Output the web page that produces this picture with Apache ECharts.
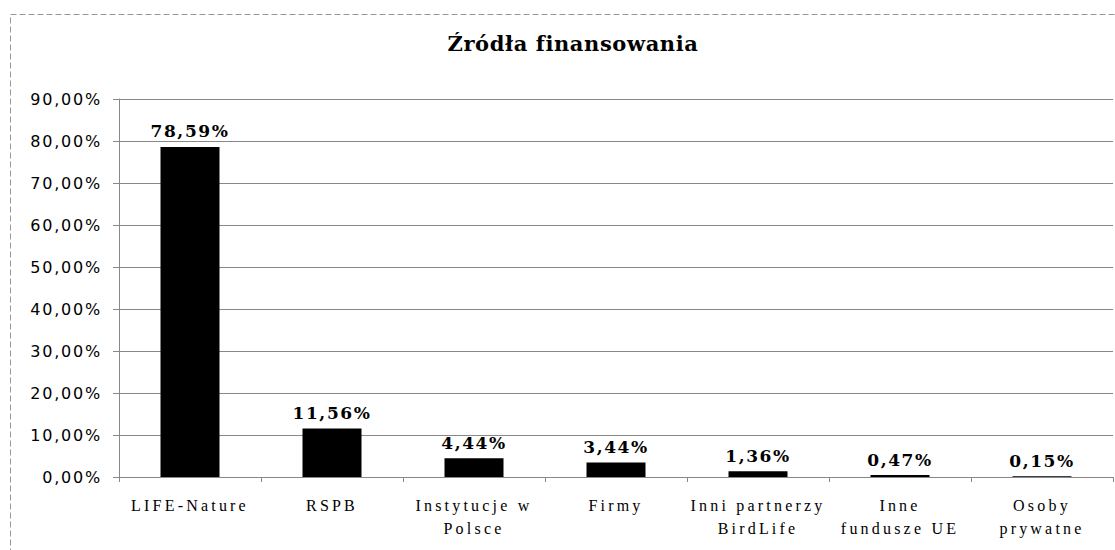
<!DOCTYPE html>
<html>
<head>
<meta charset="utf-8">
<script src="https://cdn.jsdelivr.net/npm/echarts@6/dist/echarts.min.js"></script>
<style>
  html, body { margin: 0; padding: 0; background: #fff; }
  #main { width: 1115px; height: 550px; }
  /* the scanned original has very loose letter spacing */
  #main text[style*="DejaVu Sans"] { letter-spacing: 1.8px; }
  #main text[style*="Liberation Serif"] { letter-spacing: 3.2px; }
  #main text[style*="DejaVu Serif"] { letter-spacing: 1.6px; }
  #main text[style*="21px"] { letter-spacing: 0.6px; }
</style>
</head>
<body>
<div id="main"></div>
<script>
// kategorie i udzialy (%)
var categories = ['LIFE-Nature', 'RSPB', 'Instytucje w\nPolsce', 'Firmy', 'Inni partnerzy\nBirdLife', 'Inne\nfundusze UE', 'Osoby\nprywatne'];
var shares = [78.59, 11.56, 4.44, 3.44, 1.36, 0.47, 0.15];
var titleText = 'Źródła finansowania';

function pct(v) {
    return v.toFixed(2).replace('.', ',') + '%';
}

var myChart = echarts.init(document.getElementById('main'), null, {renderer: 'svg'});
var option = {
    backgroundColor: '#fff',
    animation: false,
    title: {
        text: titleText,
        left: 568,
        top: 28,
        textAlign: 'center',
        textStyle: {
            fontFamily: 'DejaVu Serif',
            fontWeight: 'bold',
            fontSize: 21,
            color: '#000'
        }
    },
    graphic: [{
        type: 'rect',
        left: 8,
        top: 12,
        shape: {width: 1200, height: 600},
        style: {fill: null, stroke: '#999', lineWidth: 1, lineDash: [6, 3]},
        silent: true
    }],
    grid: {left: 119, right: 2, top: 99, bottom: 73},
    xAxis: {
        type: 'category',
        data: categories,
        axisLine: {lineStyle: {color: '#888'}},
        axisTick: {show: true, length: 5, lineStyle: {color: '#888'}},
        axisLabel: {
            interval: 0,
            margin: 17,
            fontFamily: 'Liberation Serif',
            fontSize: 16,
            lineHeight: 23,
            color: '#000'
        }
    },
    yAxis: {
        type: 'value',
        min: 0,
        max: 90,
        interval: 10,
        axisLine: {show: true, lineStyle: {color: '#888'}},
        axisTick: {show: true, length: 6, lineStyle: {color: '#888'}},
        splitLine: {lineStyle: {color: '#888', width: 1}},
        axisLabel: {
            margin: 17,
            fontFamily: 'DejaVu Sans',
            fontSize: 16,
            color: '#000',
            formatter: pct
        }
    },
    series: [{
        type: 'bar',
        data: shares,
        barWidth: 59,
        itemStyle: {color: '#000'},
        label: {
            show: true,
            position: 'top',
            distance: 7,
            fontFamily: 'DejaVu Serif',
            fontWeight: 'bold',
            fontSize: 17,
            color: '#000',
            formatter: function (p) { return pct(p.value); }
        }
    }]
};
myChart.setOption(option);
</script>
</body>
</html>
